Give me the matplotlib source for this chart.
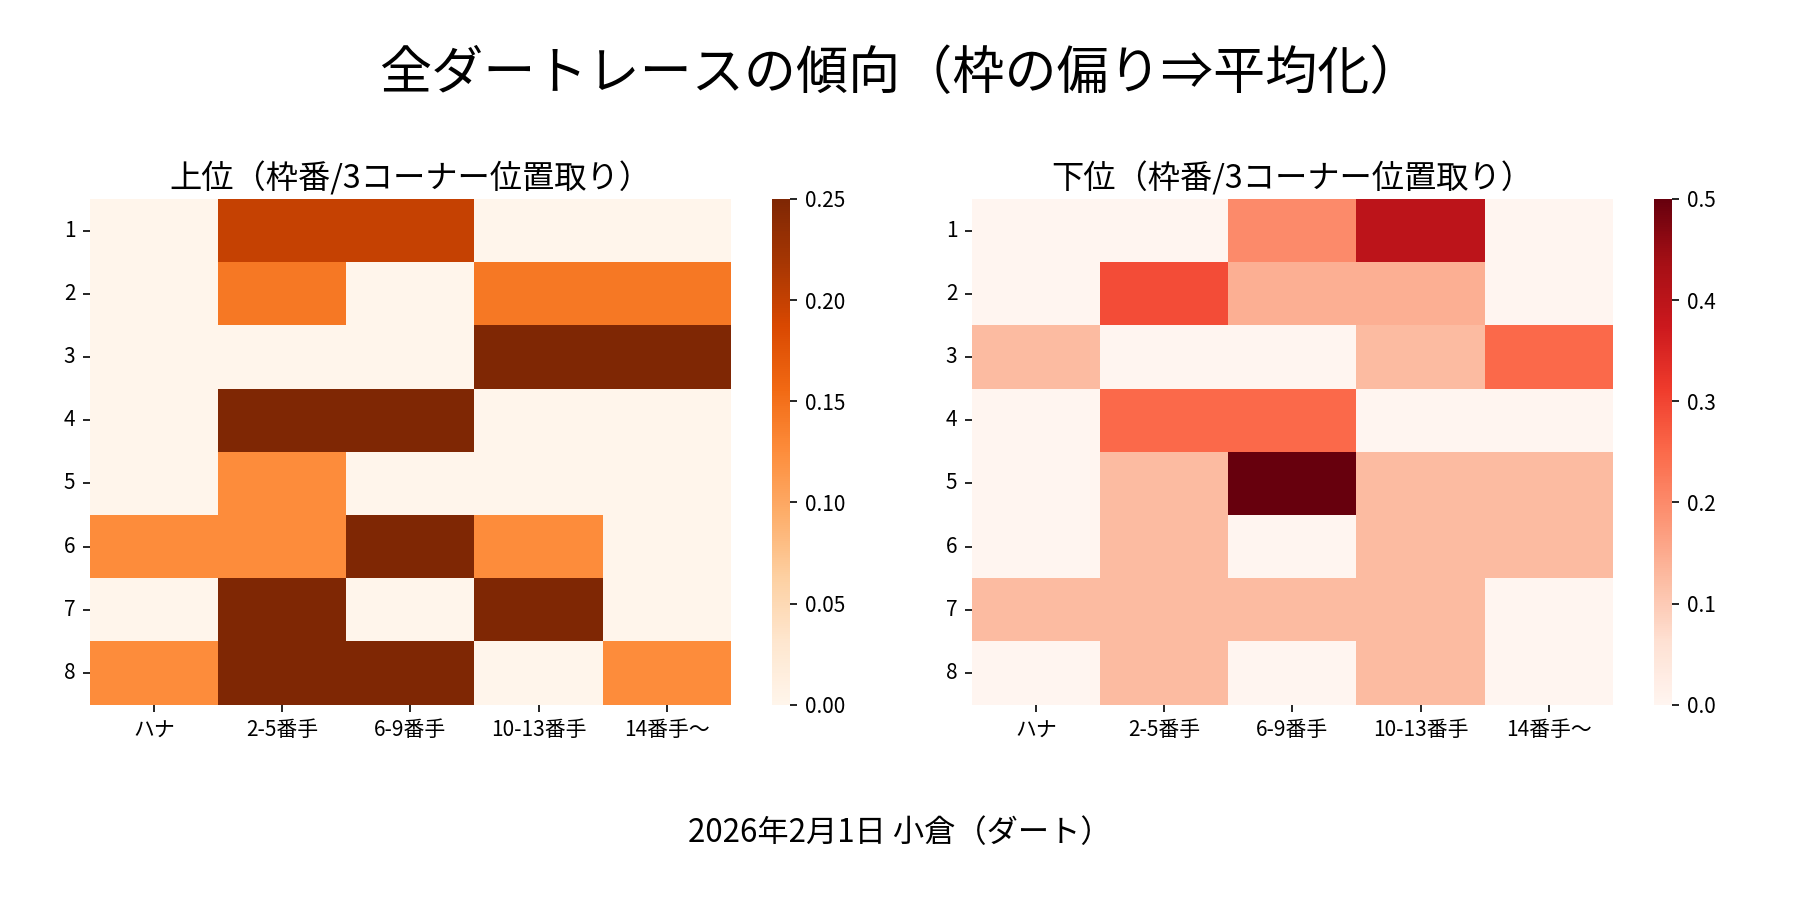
import numpy as np
import matplotlib
matplotlib.use("Agg")
import matplotlib.pyplot as plt
import seaborn as sns

plt.rcParams['font.family'] = ['Noto Sans CJK JP', 'DejaVu Sans']

# data
waku = ["1", "2", "3", "4", "5", "6", "7", "8"]
positions = ["ハナ", "2-5番手", "6-9番手", "10-13番手", "14番手〜"]

upper = np.array([
    [0.0,   0.2,   0.2,   0.0,   0.0],
    [0.0,   0.143, 0.0,   0.143, 0.143],
    [0.0,   0.0,   0.0,   0.25,  0.25],
    [0.0,   0.25,  0.25,  0.0,   0.0],
    [0.0,   0.125, 0.0,   0.0,   0.0],
    [0.125, 0.125, 0.25,  0.125, 0.0],
    [0.0,   0.25,  0.0,   0.25,  0.0],
    [0.125, 0.25,  0.25,  0.0,   0.125],
])

lower = np.array([
    [0.0,   0.0,   0.2,   0.4,   0.0],
    [0.0,   0.29,  0.143, 0.143, 0.0],
    [0.125, 0.0,   0.0,   0.125, 0.25],
    [0.0,   0.25,  0.25,  0.0,   0.0],
    [0.0,   0.125, 0.5,   0.125, 0.125],
    [0.0,   0.125, 0.0,   0.125, 0.125],
    [0.125, 0.125, 0.125, 0.125, 0.0],
    [0.0,   0.125, 0.0,   0.125, 0.0],
])

fig = plt.figure(figsize=(12, 6), dpi=150)

ax1 = fig.add_axes([0.050, 0.217, 0.356, 0.562])
cax1 = fig.add_axes([0.429, 0.217, 0.010, 0.562])
ax2 = fig.add_axes([0.540, 0.217, 0.356, 0.562])
cax2 = fig.add_axes([0.919, 0.217, 0.010, 0.562])

sns.heatmap(upper, ax=ax1, cbar_ax=cax1, cmap="Oranges", vmin=0, vmax=0.25,
            xticklabels=positions, yticklabels=waku)
sns.heatmap(lower, ax=ax2, cbar_ax=cax2, cmap="Reds", vmin=0, vmax=0.5,
            xticklabels=positions, yticklabels=waku)

ax1.set_title("上位（枠番/3コーナー位置取り）", fontsize=15.5, pad=5)
ax2.set_title("下位（枠番/3コーナー位置取り）", fontsize=15.5, pad=5)

for ax in (ax1, ax2):
    ax.tick_params(axis='y', rotation=0, labelsize=10)
    ax.tick_params(axis='x', rotation=0, labelsize=10)

cax1.set_yticks([0.0, 0.05, 0.10, 0.15, 0.20, 0.25])
cax1.set_yticklabels(["0.00", "0.05", "0.10", "0.15", "0.20", "0.25"])
cax2.set_yticks([0.0, 0.1, 0.2, 0.3, 0.4, 0.5])
for cax in (cax1, cax2):
    cax.tick_params(labelsize=10)

fig.suptitle("全ダートレースの傾向（枠の偏り⇒平均化）", fontsize=25, y=0.918, va='center')
fig.text(0.5, 0.074, "2026年2月1日 小倉（ダート）", ha='center', va='center', fontsize=15)

fig.savefig("out.png", dpi=150)
